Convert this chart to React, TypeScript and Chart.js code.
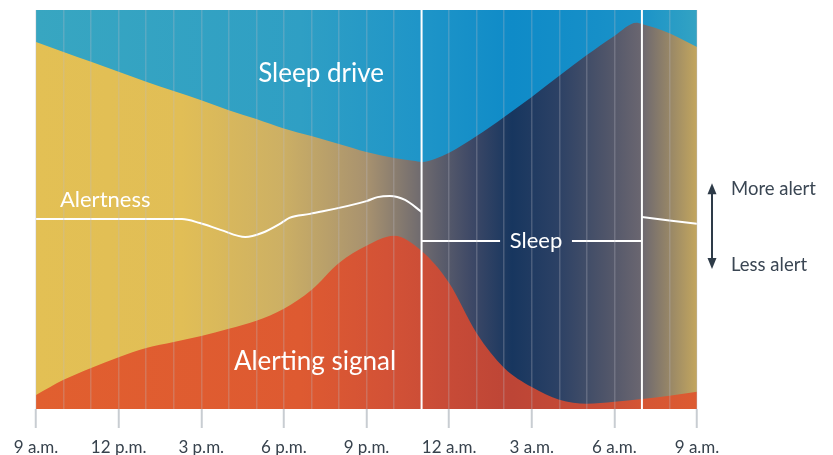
import React, { useEffect, useRef } from "react";
import { Chart, registerables } from "chart.js";

Chart.register(...registerables);

// x axis: hours after 9 a.m. (0..24); y: relative level (0..100)
const tickLabels = ["9 a.m.", "12 p.m.", "3 p.m.", "6 p.m.", "9 p.m.", "12 a.m.", "3 a.m.", "6 a.m.", "9 a.m."];

const sleepDriveHours = [0, 1, 2, 3, 4, 5, 6, 7, 8, 9, 10, 11, 12, 13, 13.7, 14, 14.5, 15, 16, 17, 18, 19, 20, 21, 21.8, 22, 23, 24];
const sleepDriveLevel = [92.0, 89.5, 87.0, 84.5, 82.0, 79.7, 77.4, 74.9, 72.7, 70.3, 68.4, 66.4, 64.4, 62.9, 62.2, 61.9, 62.7, 64.2, 68.4, 73.2, 78.2, 83.5, 88.7, 93.5, 96.8, 96.5, 94.2, 90.7];

const alertingHours = [0, 1, 2, 3, 4, 5, 6, 7, 8, 9, 10, 11, 12, 13, 14, 15, 16, 17, 18, 19, 20, 21, 22, 23, 24];
const alertingLevel = [3.5, 7.3, 10.3, 13.0, 15.3, 16.8, 18.3, 20.1, 22.1, 25.1, 29.8, 36.6, 40.9, 43.4, 39.6, 31.6, 19.0, 10.3, 5.5, 2.3, 1.3, 1.8, 2.5, 3.3, 4.3];

const alertnessHours = [0, 5.3, 5.95, 6.7, 7.6, 8.2, 8.9, 9.2, 9.95, 12, 12.4, 12.85, 13.4, 14, 18, 22, 24];
const alertnessLevel = [47.6, 47.6, 46.6, 44.9, 43.1, 44.1, 46.6, 47.9, 48.9, 52.1, 53.1, 53.4, 52.4, 49.4, null, 48.1, 46.4];

const sleepStart = 14;
const sleepEnd = 22;
const sleepLineLevel = 42.1;
const sleepLabelGap = [16.85, 19.46];

const bgStops: [number, string][] = [
  [0, "#e3c054"], [0.22, "#e1be56"], [0.37, "#cdb064"], [0.5, "#a8926f"], [0.58, "#716c6f"],
  [0.66, "#3d4866"], [0.72, "#17365f"], [0.79, "#2c4165"], [0.86, "#4e5469"], [0.915, "#6a6670"], [1, "#c3a65e"],
];
const blueStops: [number, string][] = [
  [0, "#38a6c1"], [0.4, "#2f9fc4"], [0.58, "#1f95c8"], [0.72, "#0f8bc8"], [0.85, "#168fc8"], [0.915, "#1b93c8"], [1, "#33a3c3"],
];
const redStops: [number, string][] = [
  [0, "#e15f2f"], [0.4, "#de5a31"], [0.53, "#d35236"], [0.62, "#c84b37"], [0.72, "#bd4536"], [0.85, "#c84c36"], [0.915, "#d45534"], [1, "#dd5b31"],
];

function hGradient(chart: any, stops: [number, string][]) {
  const a = chart.chartArea;
  if (!a) return "transparent";
  const g = chart.ctx.createLinearGradient(a.left, 0, a.right, 0);
  stops.forEach(([o, c]) => g.addColorStop(o, c));
  return g;
}

const pts = (xs: number[], ys: (number | null)[]) => xs.map((x, i) => ({ x, y: ys[i] }));

const FONT = "Lato, 'Noto Sans', sans-serif";

const bgPlugin = {
  id: "bgGradient",
  beforeDatasetsDraw(chart: any) {
    const { ctx, chartArea: a } = chart;
    ctx.save();
    ctx.fillStyle = hGradient(chart, bgStops);
    ctx.fillRect(a.left, a.top, a.right - a.left, a.bottom - a.top);
    ctx.restore();
  },
};

const textPlugin = {
  id: "annotations",
  afterDraw(chart: any) {
    const { ctx, chartArea: a } = chart;
    const xs = chart.scales.x;
    const ys = chart.scales.y;
    ctx.save();
    ctx.fillStyle = "#ffffff";
    ctx.textBaseline = "middle";
    ctx.font = `26px ${FONT}`;
    ctx.textAlign = "center";
    ctx.fillText("Sleep drive", xs.getPixelForValue(10.35), ys.getPixelForValue(84.0));
    ctx.fillText("Alerting signal", xs.getPixelForValue(10.13), ys.getPixelForValue(11.8));
    ctx.font = `22px ${FONT}`;
    ctx.fillText("Sleep", xs.getPixelForValue((sleepLabelGap[0] + sleepLabelGap[1]) / 2), ys.getPixelForValue(sleepLineLevel));
    ctx.font = `22px ${FONT}`;
    ctx.textAlign = "left";
    ctx.fillText("Alertness", xs.getPixelForValue(0.87), ys.getPixelForValue(52.4));

    // right-hand arrow legend
    const ax = a.right + 15;
    const yTop = ys.getPixelForValue(56.6);
    const yBot = ys.getPixelForValue(35.1);
    ctx.strokeStyle = "#2e3b48";
    ctx.fillStyle = "#2e3b48";
    ctx.lineWidth = 2;
    ctx.beginPath();
    ctx.moveTo(ax, yTop + 6);
    ctx.lineTo(ax, yBot - 6);
    ctx.stroke();
    ctx.beginPath();
    ctx.moveTo(ax, yTop);
    ctx.lineTo(ax - 4.5, yTop + 11);
    ctx.lineTo(ax + 4.5, yTop + 11);
    ctx.closePath();
    ctx.fill();
    ctx.beginPath();
    ctx.moveTo(ax, yBot);
    ctx.lineTo(ax - 4.5, yBot - 11);
    ctx.lineTo(ax + 4.5, yBot - 11);
    ctx.closePath();
    ctx.fill();
    ctx.fillStyle = "#3a4653";
    ctx.font = `18.5px ${FONT}`;
    ctx.fillText("More alert", ax + 19, ys.getPixelForValue(55.1));
    ctx.fillText("Less alert", ax + 19, ys.getPixelForValue(36.1));
    ctx.restore();
  },
};

export default function App() {
  const ref = useRef<HTMLCanvasElement | null>(null);
  useEffect(() => {
    document.body.style.margin = "0";
    const canvas = ref.current;
    if (!canvas) return;
    const white = "#ffffff";
    const chart = new Chart(canvas, {
      type: "line",
      data: {
        datasets: [
          {
            label: "Sleep start",
            data: [{ x: sleepStart, y: 0 }, { x: sleepStart, y: 100 }],
            borderColor: white,
            borderWidth: 2,
            fill: false,
          },
          {
            label: "Sleep end",
            data: [{ x: sleepEnd, y: 0 }, { x: sleepEnd, y: 100 }],
            borderColor: white,
            borderWidth: 2,
            fill: false,
          },
          {
            label: "Sleep",
            data: [
              { x: sleepStart, y: sleepLineLevel },
              { x: sleepLabelGap[0], y: sleepLineLevel },
              { x: (sleepLabelGap[0] + sleepLabelGap[1]) / 2, y: null },
              { x: sleepLabelGap[1], y: sleepLineLevel },
              { x: sleepEnd, y: sleepLineLevel },
            ],
            borderColor: white,
            borderWidth: 2,
            fill: false,
            spanGaps: false,
          },
          {
            label: "Alertness",
            data: pts(alertnessHours, alertnessLevel),
            borderColor: white,
            borderWidth: 2,
            fill: false,
            spanGaps: false,
            cubicInterpolationMode: "monotone",
          },
          {
            label: "Alerting signal",
            data: pts(alertingHours, alertingLevel),
            borderWidth: 0,
            borderColor: "transparent",
            backgroundColor: (c: any) => hGradient(c.chart, redStops),
            fill: "start",
            cubicInterpolationMode: "monotone",
          },
          {
            label: "Sleep drive",
            data: pts(sleepDriveHours, sleepDriveLevel),
            borderWidth: 0,
            borderColor: "transparent",
            backgroundColor: (c: any) => hGradient(c.chart, blueStops),
            fill: "end",
            cubicInterpolationMode: "monotone",
          },
        ] as any,
      },
      options: {
        responsive: false,
        animation: false,
        layout: { padding: { left: 36, right: 136, top: 10, bottom: 0 } },
        elements: { point: { radius: 0, hoverRadius: 0 } },
        plugins: { legend: { display: false }, tooltip: { enabled: false } },
        events: [],
        scales: {
          x: {
            type: "linear",
            min: 0,
            max: 24,
            border: { display: false },
            grid: {
              z: 1,
              color: (c: any) =>
                c.tick && (c.tick.value === sleepStart || c.tick.value === sleepEnd)
                  ? "transparent"
                  : "rgba(185,188,196,0.28)",
              lineWidth: 1.5,
              tickLength: 19,
              tickWidth: 2,
              tickColor: (c: any) => (c.tick && c.tick.value % 3 === 0 ? "#c8cdd2" : "transparent"),
            },
            ticks: {
              stepSize: 1,
              autoSkip: false,
              maxRotation: 0,
              padding: 9,
              color: "#37424d",
              font: { family: FONT, size: 17 },
              callback: (v: any) => (Number(v) % 3 === 0 ? tickLabels[Number(v) / 3] : ""),
            },
            afterFit: (s: any) => {
              s.height = 46;
            },
          },
          y: { display: false, min: 0, max: 100 },
        },
      } as any,
      plugins: [bgPlugin, textPlugin],
    });
    return () => chart.destroy();
  }, []);
  return (
    <div style={{ width: 833, height: 455 }}>
      <canvas ref={ref} width={833} height={455} style={{ display: "block" }} />
    </div>
  );
}
